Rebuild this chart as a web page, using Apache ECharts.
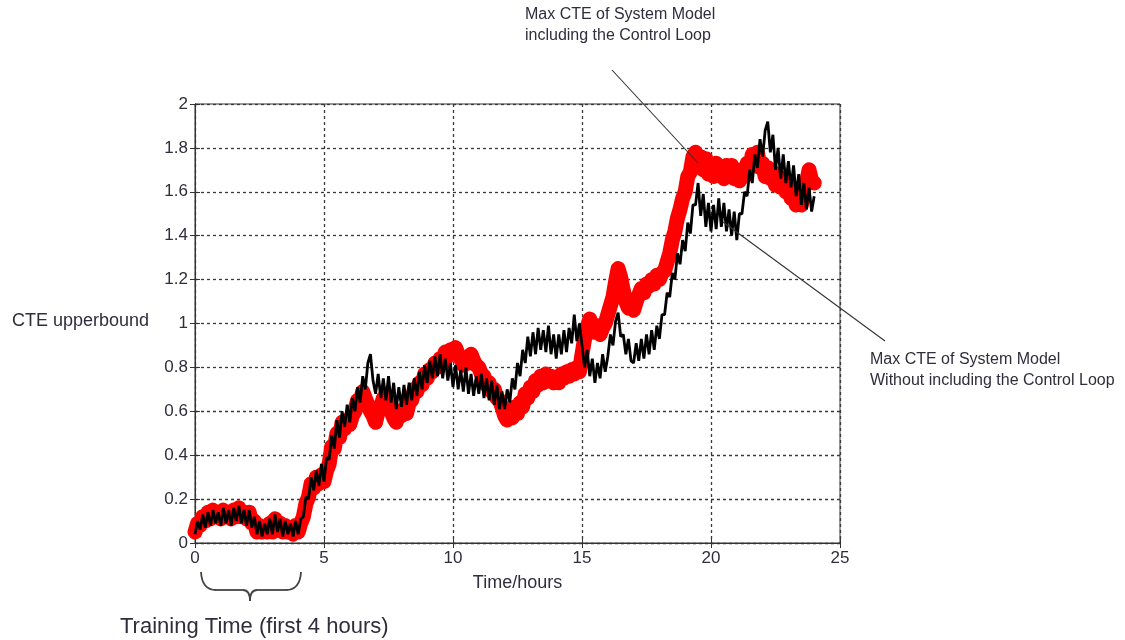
<!DOCTYPE html>
<html>
<head>
<meta charset="utf-8">
<script src="https://cdn.jsdelivr.net/npm/echarts/dist/echarts.min.js"></script>
<style>
  html, body { margin: 0; padding: 0; background: #fff; }
  #chart { width: 1125px; height: 640px; }
</style>
</head>
<body>
<div id="chart"></div>
<script>
// sample spacing of both traces, in hours
const step = 0.1;

// Max CTE of System Model including the Control Loop (red band), one row per hour
const redCte = [
  0.05, 0.09, 0.08, 0.12, 0.10, 0.14, 0.11, 0.15, 0.12, 0.14,
  0.11, 0.15, 0.12, 0.14, 0.11, 0.15, 0.12, 0.16, 0.12, 0.14,
  0.11, 0.14, 0.09, 0.10, 0.05, 0.08, 0.05, 0.07, 0.05, 0.09,
  0.05, 0.11, 0.07, 0.09, 0.05, 0.08, 0.05, 0.07, 0.04, 0.08,
  0.05, 0.09, 0.12, 0.18, 0.21, 0.27, 0.25, 0.30, 0.27, 0.31,
  0.28, 0.33, 0.36, 0.44, 0.43, 0.50, 0.48, 0.55, 0.52, 0.56,
  0.54, 0.58, 0.60, 0.65, 0.64, 0.69, 0.66, 0.63, 0.60, 0.58,
  0.55, 0.60, 0.62, 0.66, 0.63, 0.66, 0.60, 0.57, 0.55, 0.60,
  0.58, 0.61, 0.59, 0.64, 0.65, 0.70, 0.69, 0.73, 0.72, 0.77,
  0.75, 0.79, 0.78, 0.82, 0.80, 0.84, 0.82, 0.87, 0.85, 0.88,
  0.86, 0.89, 0.86, 0.84, 0.81, 0.84, 0.82, 0.86, 0.83, 0.81,
  0.80, 0.77, 0.76, 0.72, 0.73, 0.69, 0.70, 0.66, 0.65, 0.62,
  0.58, 0.56, 0.59, 0.57, 0.62, 0.59, 0.64, 0.62, 0.68, 0.66,
  0.71, 0.69, 0.74, 0.72, 0.76, 0.73, 0.77, 0.74, 0.76, 0.73,
  0.75, 0.73, 0.77, 0.75, 0.78, 0.76, 0.79, 0.77, 0.80, 0.78,
  0.86, 0.93, 0.98, 1.02, 0.98, 0.96, 0.99, 0.95, 0.98, 1.00,
  1.04, 1.08, 1.12, 1.19, 1.25, 1.21, 1.15, 1.10, 1.07, 1.09,
  1.06, 1.10, 1.13, 1.16, 1.14, 1.18, 1.17, 1.20, 1.18, 1.22,
  1.20, 1.23, 1.24, 1.28, 1.32, 1.38, 1.42, 1.48, 1.52, 1.57,
  1.60, 1.67, 1.69, 1.76, 1.78, 1.74, 1.76, 1.70, 1.75, 1.68,
  1.72, 1.67, 1.73, 1.68, 1.71, 1.66, 1.72, 1.67, 1.72, 1.66,
  1.70, 1.65, 1.70, 1.67, 1.73, 1.71, 1.77, 1.74, 1.78, 1.71,
  1.73, 1.67, 1.71, 1.66, 1.69, 1.63, 1.67, 1.62, 1.66, 1.60,
  1.63, 1.57, 1.60, 1.54, 1.57, 1.54, 1.62, 1.64, 1.70, 1.65,
  1.64
];

// Max CTE of System Model without the Control Loop (black trace)
const blackCte = [
  0.04, 0.10, 0.06, 0.13, 0.07, 0.14, 0.08, 0.15, 0.09, 0.14,
  0.08, 0.16, 0.09, 0.15, 0.08, 0.16, 0.10, 0.17, 0.09, 0.15,
  0.08, 0.15, 0.07, 0.12, 0.04, 0.10, 0.03, 0.09, 0.04, 0.11,
  0.04, 0.13, 0.05, 0.11, 0.03, 0.10, 0.04, 0.09, 0.03, 0.10,
  0.04, 0.11, 0.12, 0.21, 0.20, 0.30, 0.24, 0.33, 0.26, 0.36,
  0.28, 0.39, 0.38, 0.49, 0.43, 0.56, 0.48, 0.60, 0.53, 0.63,
  0.55, 0.66, 0.60, 0.71, 0.64, 0.76, 0.70, 0.82, 0.86, 0.74,
  0.68, 0.77, 0.66, 0.75, 0.65, 0.76, 0.64, 0.73, 0.61, 0.71,
  0.62, 0.72, 0.63, 0.73, 0.65, 0.75, 0.67, 0.78, 0.70, 0.81,
  0.73, 0.83, 0.75, 0.85, 0.76, 0.86, 0.75, 0.84, 0.74, 0.82,
  0.71, 0.81, 0.70, 0.79, 0.69, 0.80, 0.68, 0.77, 0.67, 0.76,
  0.68, 0.77, 0.66, 0.75, 0.65, 0.74, 0.63, 0.72, 0.61, 0.69,
  0.61, 0.70, 0.64, 0.75, 0.70, 0.82, 0.76, 0.88, 0.82, 0.94,
  0.85, 0.96, 0.86, 0.98, 0.88, 0.97, 0.87, 0.99, 0.86, 0.95,
  0.84, 0.95, 0.86, 0.97, 0.87, 0.98, 0.91, 1.04, 0.92, 1.00,
  0.90, 0.80, 0.88, 0.76, 0.84, 0.73, 0.82, 0.75, 0.86, 0.78,
  0.85, 0.95, 0.90, 1.01, 1.05, 0.94, 0.95, 0.86, 0.93, 0.83,
  0.82, 0.91, 0.83, 0.93, 0.84, 0.95, 0.86, 0.97, 0.88, 0.99,
  0.93, 1.04, 1.04, 1.14, 1.12, 1.23, 1.20, 1.32, 1.27, 1.38,
  1.33, 1.46, 1.41, 1.54, 1.54, 1.64, 1.49, 1.59, 1.44, 1.55,
  1.42, 1.54, 1.43, 1.57, 1.44, 1.55, 1.42, 1.52, 1.40, 1.51,
  1.38, 1.50, 1.50, 1.60, 1.58, 1.70, 1.64, 1.77, 1.71, 1.84,
  1.76, 1.88, 1.92, 1.78, 1.86, 1.70, 1.80, 1.66, 1.77, 1.64,
  1.74, 1.62, 1.72, 1.58, 1.68, 1.54, 1.64, 1.52, 1.62, 1.51,
  1.58
];

// axis ranges and ticks
const xTicks = { min: 0, max: 25, interval: 5 };
const yTicks = { min: 0, max: 2, interval: 0.2 };

const textColor = '#2e2e3c';
const fontName = 'Liberation Sans, Arial, sans-serif';

// pair every value with its time stamp
function toPoints(values) {
  return values.map((v, i) => [+(i * step).toFixed(1), v]);
}

const chart = echarts.init(document.getElementById('chart'), null, { renderer: 'canvas' });

const gridDash = {
  show: true,
  lineStyle: { color: '#3a3a3a', width: 1.3, type: [3, 3] }
};

// brace under "Training Time": pieces as quadratic curves and straight lines
const braceStyle = { stroke: '#444', lineWidth: 1.8, fill: null };
const brace = [
  { type: 'bezierCurve', shape: { x1: 201, y1: 572, cpx1: 202, cpy1: 590, x2: 216, y2: 590 }, style: braceStyle },
  { type: 'line', shape: { x1: 216, y1: 590, x2: 243, y2: 590 }, style: braceStyle },
  { type: 'bezierCurve', shape: { x1: 243, y1: 590, cpx1: 250, cpy1: 590, x2: 250, y2: 601 }, style: braceStyle },
  { type: 'bezierCurve', shape: { x1: 250, y1: 601, cpx1: 250, cpy1: 590, x2: 257, y2: 590 }, style: braceStyle },
  { type: 'line', shape: { x1: 257, y1: 590, x2: 286, y2: 590 }, style: braceStyle },
  { type: 'bezierCurve', shape: { x1: 286, y1: 590, cpx1: 300, cpy1: 590, x2: 301, y2: 572 }, style: braceStyle }
];

const option = {
  animation: false,
  backgroundColor: '#fff',
  grid: {
    left: 195, right: 285, top: 104, bottom: 97,
    show: true, borderColor: '#333', borderWidth: 1, backgroundColor: 'transparent'
  },
  xAxis: [
    {
      type: 'value',
      min: xTicks.min, max: xTicks.max, interval: xTicks.interval,
      name: 'Time/hours',
      nameLocation: 'middle',
      nameGap: 31,
      nameTextStyle: { color: textColor, fontSize: 18, fontFamily: fontName },
      axisLine: { show: true, lineStyle: { color: '#333' } },
      axisTick: { show: true, inside: true, length: 5, lineStyle: { color: '#333' } },
      axisLabel: { color: textColor, fontSize: 17, fontFamily: fontName, margin: 7 },
      splitLine: gridDash
    },
    {
      type: 'value', position: 'top',
      min: xTicks.min, max: xTicks.max, interval: xTicks.interval,
      axisLine: { show: true, lineStyle: { color: '#333' } },
      axisTick: { show: true, inside: true, length: 5, lineStyle: { color: '#333' } },
      axisLabel: { show: false },
      splitLine: { show: false }
    }
  ],
  yAxis: [
    {
      type: 'value',
      min: yTicks.min, max: yTicks.max, interval: yTicks.interval,
      axisLine: { show: true, lineStyle: { color: '#333' } },
      axisTick: { show: true, inside: true, length: 5, lineStyle: { color: '#333' } },
      axisLabel: { color: textColor, fontSize: 17, fontFamily: fontName, margin: 7 },
      splitLine: gridDash
    },
    {
      type: 'value', position: 'right',
      min: yTicks.min, max: yTicks.max, interval: yTicks.interval,
      axisLine: { show: true, lineStyle: { color: '#333' } },
      axisTick: { show: true, inside: true, length: 5, lineStyle: { color: '#333' } },
      axisLabel: { show: false },
      splitLine: { show: false }
    }
  ],
  series: [
    {
      name: 'Max CTE of System Model including the Control Loop',
      type: 'line',
      data: toPoints(redCte),
      showSymbol: false,
      lineStyle: { color: '#ff0000', width: 15, join: 'round', cap: 'round' },
      z: 2
    },
    {
      name: 'Max CTE of System Model Without including the Control Loop',
      type: 'line',
      data: toPoints(blackCte),
      showSymbol: false,
      lineStyle: { color: '#000', width: 2.8 },
      z: 3
    }
  ],
  graphic: [
    // y axis title, written horizontally as in the original
    {
      type: 'text', left: 12, top: 312,
      style: { text: 'CTE upperbound', fill: textColor, font: '18px ' + fontName }
    },
    ...brace,
    {
      type: 'text', left: 120, top: 616,
      style: { text: 'Training Time (first 4 hours)', fill: textColor, font: '22px ' + fontName }
    },
    // annotation for the red trace
    {
      type: 'text', left: 525, top: 4,
      style: {
        text: 'Max CTE of System Model\nincluding the Control Loop',
        fill: textColor, font: '16px ' + fontName, lineHeight: 21
      }
    },
    {
      type: 'line',
      shape: { x1: 612, y1: 70, x2: 698, y2: 163 },
      style: { stroke: '#333', lineWidth: 1.1 },
      z: 10
    },
    // annotation for the black trace
    {
      type: 'text', left: 870, top: 349,
      style: {
        text: 'Max CTE of System Model\nWithout including the Control Loop',
        fill: textColor, font: '16px ' + fontName, lineHeight: 21
      }
    },
    {
      type: 'line',
      shape: { x1: 723, y1: 222, x2: 885, y2: 341 },
      style: { stroke: '#333', lineWidth: 1.1 },
      z: 10
    }
  ]
};

chart.setOption(option);
</script>
</body>
</html>
